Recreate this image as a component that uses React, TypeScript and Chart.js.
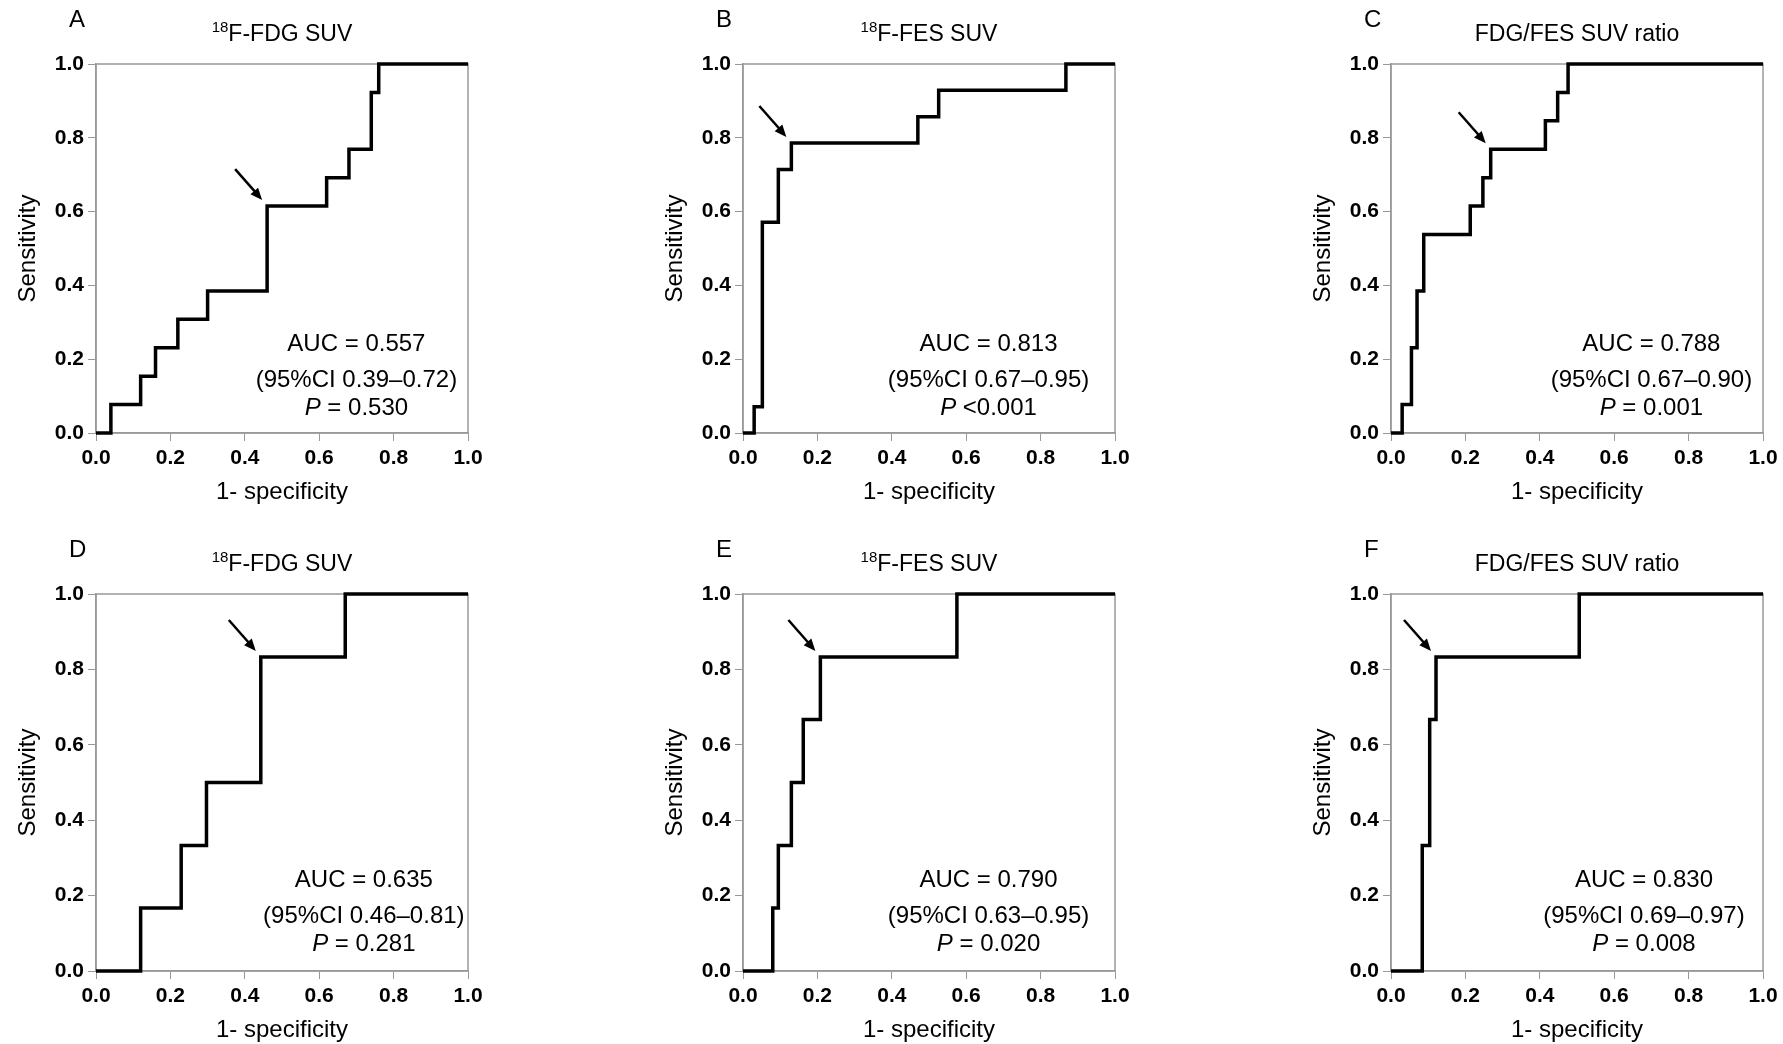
import React, { useEffect, useRef } from "react";
import { Chart, registerables } from "chart.js";
Chart.register(...registerables);

const panelLetters = ["A", "B", "C", "D", "E", "F"];
const titleSup = ["18", "18", "", "18", "18", ""];
const titleMain = ["F-FDG SUV", "F-FES SUV", "FDG/FES SUV ratio", "F-FDG SUV", "F-FES SUV", "FDG/FES SUV ratio"];
const rocX = [
  [0, 0.04, 0.12, 0.16, 0.22, 0.30, 0.46, 0.62, 0.68, 0.74, 0.76, 1],
  [0, 0.03, 0.052, 0.095, 0.13, 0.47, 0.526, 0.868, 1],
  [0, 0.03, 0.055, 0.07, 0.088, 0.213, 0.247, 0.268, 0.415, 0.448, 0.476, 1],
  [0, 0.12, 0.229, 0.297, 0.443, 0.67, 1],
  [0, 0.08, 0.095, 0.13, 0.162, 0.208, 0.575, 1],
  [0, 0.084, 0.104, 0.121, 0.506, 1],
];
const rocY = [
  [0, 0.077, 0.154, 0.231, 0.308, 0.385, 0.615, 0.692, 0.769, 0.923, 1, 1],
  [0, 0.071, 0.571, 0.714, 0.786, 0.857, 0.929, 1, 1],
  [0, 0.077, 0.231, 0.385, 0.538, 0.615, 0.692, 0.769, 0.846, 0.923, 1, 1],
  [0, 0.167, 0.333, 0.5, 0.833, 1, 1],
  [0, 0.167, 0.333, 0.5, 0.667, 0.833, 1, 1],
  [0, 0.333, 0.667, 0.833, 1, 1],
];
const arrowX = [0.46, 0.13, 0.268, 0.443, 0.208, 0.121];
const arrowY = [0.615, 0.786, 0.769, 0.833, 0.833, 0.833];
const aucText = ["AUC = 0.557", "AUC = 0.813", "AUC = 0.788", "AUC = 0.635", "AUC = 0.790", "AUC = 0.830"];
const ciText = ["(95%CI 0.39–0.72)", "(95%CI 0.67–0.95)", "(95%CI 0.67–0.90)", "(95%CI 0.46–0.81)", "(95%CI 0.63–0.95)", "(95%CI 0.69–0.97)"];
const pText = ["= 0.530", "<0.001", "= 0.001", "= 0.281", "= 0.020", "= 0.008"];
const aucX = [0.70, 0.66, 0.70, 0.72, 0.66, 0.68];
const xTicks = [0, 0.2, 0.4, 0.6, 0.8, 1.0];

const plotLefts = [96, 743, 1391];
const plotTops = [64, 594];
const plotW = 372;
const plotHs = [369, 377];
const PADL = 86, PADT = 64, PADR = 30, PADB = 78;
const FONT = "'Liberation Sans', Arial, sans-serif";

function Panel({ i }: { i: number }) {
  const ref = useRef<HTMLCanvasElement>(null);
  const row = Math.floor(i / 3), col = i % 3;
  const H = plotHs[row];
  const W = PADL + plotW + PADR, Ht = PADT + H + PADB;
  useEffect(() => {
    const deco = {
      id: "deco",
      afterDraw(c: any) {
        const ctx = c.ctx, a = c.chartArea, xs = c.scales.x, ys = c.scales.y;
        ctx.save();
        ctx.strokeStyle = "#999"; ctx.lineWidth = 1.5;
        ctx.strokeRect(a.left, a.top, a.right - a.left, a.bottom - a.top);
        ctx.strokeStyle = "#000"; ctx.lineWidth = 3.5; ctx.lineJoin = "miter";
        ctx.beginPath();
        const X = rocX[i], Y = rocY[i];
        ctx.moveTo(xs.getPixelForValue(X[0]), ys.getPixelForValue(Y[0]));
        for (let k = 1; k < X.length; k++) {
          ctx.lineTo(xs.getPixelForValue(X[k]), ys.getPixelForValue(Y[k - 1]));
          ctx.lineTo(xs.getPixelForValue(X[k]), ys.getPixelForValue(Y[k]));
        }
        ctx.stroke();
        const tx = xs.getPixelForValue(arrowX[i]) - 5, ty = ys.getPixelForValue(arrowY[i]) - 6;
        const fx = tx - 27, fy = ty - 31;
        ctx.strokeStyle = "#000"; ctx.lineWidth = 2.5;
        ctx.beginPath(); ctx.moveTo(fx, fy); ctx.lineTo(tx - 5, ty - 6); ctx.stroke();
        const ang = Math.atan2(ty - fy, tx - fx);
        ctx.fillStyle = "#000"; ctx.beginPath();
        ctx.moveTo(tx, ty);
        ctx.lineTo(tx - 13 * Math.cos(ang - 0.4), ty - 13 * Math.sin(ang - 0.4));
        ctx.lineTo(tx - 13 * Math.cos(ang + 0.4), ty - 13 * Math.sin(ang + 0.4));
        ctx.closePath(); ctx.fill();
        ctx.fillStyle = "#000"; ctx.textBaseline = "middle";
        ctx.font = `24px ${FONT}`; ctx.textAlign = "left";
        ctx.fillText(panelLetters[i], a.left - 27, 20);
        const cx = (a.left + a.right) / 2;
        ctx.font = `23px ${FONT}`;
        const mw = ctx.measureText(titleMain[i]).width;
        ctx.font = `15px ${FONT}`;
        const sw = titleSup[i] ? ctx.measureText(titleSup[i]).width : 0;
        const sx = cx - (mw + sw) / 2;
        if (titleSup[i]) ctx.fillText(titleSup[i], sx, 28);
        ctx.font = `23px ${FONT}`;
        ctx.fillText(titleMain[i], sx + sw, 35);
        ctx.textAlign = "center"; ctx.font = `24px ${FONT}`;
        const ax = xs.getPixelForValue(aucX[i]);
        const base = a.bottom - 0.24 * H;
        ctx.fillText(aucText[i], ax, base);
        ctx.fillText(ciText[i], ax, base + 36);
        const pw = ctx.measureText(pText[i]).width;
        ctx.font = `italic 24px ${FONT}`;
        const iw = ctx.measureText("P ").width;
        const start = ax - (pw + iw) / 2;
        ctx.textAlign = "left";
        ctx.fillText("P", start, base + 64);
        ctx.font = `24px ${FONT}`;
        ctx.fillText(pText[i], start + iw, base + 64);
        ctx.restore();
      },
    };
    const chart = new Chart(ref.current!, {
      type: "line",
      data: {
        datasets: [{
          data: rocX[i].map((x, k) => ({ x, y: rocY[i][k] })),
          borderColor: "rgba(0,0,0,0)", borderWidth: 0, pointRadius: 0, stepped: "after",
        }],
      },
      options: {
        animation: false, responsive: false, devicePixelRatio: 1,
        layout: { padding: { left: 0, top: PADT, right: PADR, bottom: 0 } },
        plugins: { legend: { display: false }, tooltip: { enabled: false } },
        scales: {
          x: {
            type: "linear", min: 0, max: 1,
            afterFit: (s: any) => { s.height = PADB; },
            afterBuildTicks: (s: any) => { s.ticks = xTicks.map((v) => ({ value: v })); },
            grid: { drawOnChartArea: false, drawTicks: true, tickLength: 8, color: "#999" },
            border: { color: "#999", width: 1.5 },
            ticks: { color: "#000", font: { family: FONT, size: 21, weight: "bold" }, callback: (v: any) => Number(v).toFixed(1), padding: 5 },
            title: { display: true, text: "1- specificity", color: "#000", font: { family: FONT, size: 24 }, padding: { top: 8 } },
          },
          y: {
            type: "linear", min: 0, max: 1,
            afterFit: (s: any) => { s.width = PADL; },
            afterBuildTicks: (s: any) => { s.ticks = [0, 0.2, 0.4, 0.6, 0.8, 1].map((v) => ({ value: v })); },
            grid: { drawOnChartArea: false, drawTicks: true, tickLength: 8, color: "#999" },
            border: { color: "#999", width: 1.5 },
            ticks: { color: "#000", font: { family: FONT, size: 21, weight: "bold" }, callback: (v: any) => Number(v).toFixed(1), padding: 4 },
            title: { display: true, text: "Sensitivity", color: "#000", font: { family: FONT, size: 24 }, padding: { bottom: 2 } },
          },
        },
      },
      plugins: [deco],
    } as any);
    return () => chart.destroy();
  }, [i]);
  return (
    <canvas ref={ref} width={W} height={Ht}
      style={{ position: "absolute", left: plotLefts[col] - PADL, top: plotTops[row] - PADT, width: W, height: Ht }} />
  );
}

export default function App() {
  return (
    <div style={{ position: "fixed", left: 0, top: 0, width: 1783, height: 1044, background: "#fff" }}>
      {[0, 1, 2, 3, 4, 5].map((i) => <Panel key={i} i={i} />)}
    </div>
  );
}
